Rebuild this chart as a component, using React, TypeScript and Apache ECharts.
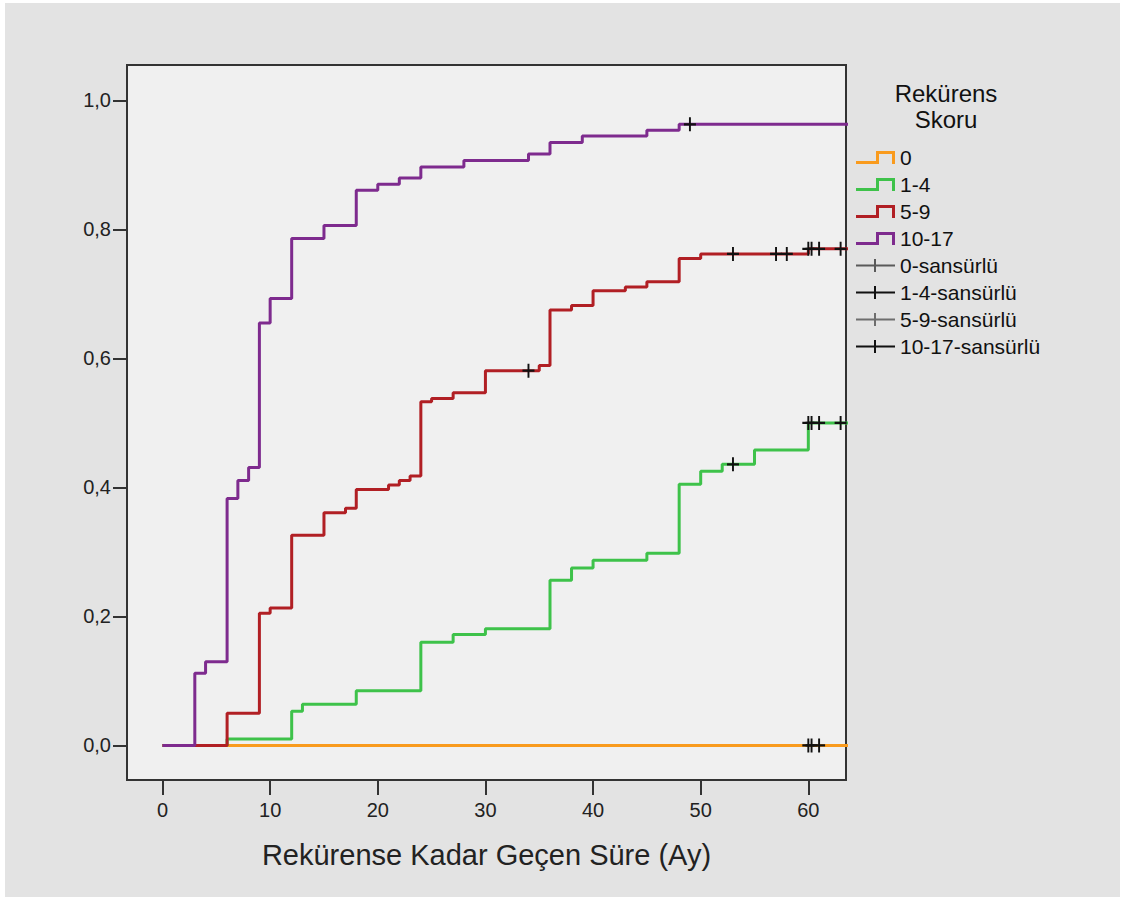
import React, { useEffect, useRef } from "react";
import * as echarts from "echarts";

// ---- Data ----
const groupNames = ["0", "1-4", "5-9", "10-17"];
const censorNames = ["0-sansürlü", "1-4-sansürlü", "5-9-sansürlü", "10-17-sansürlü"];

// cumulative recurrence, [months, proportion]
const score0Steps = [[0, 0], [64, 0]];
const score1to4Steps = [
  [0, 0], [6, 0.010], [12, 0.053], [13, 0.064], [18, 0.085], [24, 0.160], [27, 0.172],
  [30, 0.181], [36, 0.256], [38, 0.275], [40, 0.287], [45, 0.298], [48, 0.405],
  [50, 0.425], [52, 0.436], [55, 0.458], [60, 0.500], [64, 0.500],
];
const score5to9Steps = [
  [0, 0], [6, 0.050], [9, 0.205], [10, 0.213], [12, 0.326], [15, 0.361], [17, 0.368],
  [18, 0.397], [21, 0.404], [22, 0.411], [23, 0.418], [24, 0.533], [25, 0.538],
  [27, 0.547], [30, 0.581], [35, 0.589], [36, 0.675], [38, 0.682], [40, 0.705],
  [43, 0.711], [45, 0.719], [48, 0.755], [50, 0.762], [60, 0.770], [64, 0.770],
];
const score10to17Steps = [
  [0, 0], [3, 0.112], [4, 0.130], [6, 0.383], [7, 0.411], [8, 0.431], [9, 0.655],
  [10, 0.693], [12, 0.786], [15, 0.806], [18, 0.861], [20, 0.870], [22, 0.880],
  [24, 0.897], [28, 0.907], [34, 0.917], [36, 0.935], [39, 0.945], [45, 0.954],
  [48, 0.963], [64, 0.963],
];

// censored observations
const score0Censored = [[60, 0], [60.3, 0], [61, 0]];
const score1to4Censored = [[53, 0.436], [60, 0.5], [60.3, 0.5], [61, 0.5], [63, 0.5]];
const score5to9Censored = [
  [34, 0.581], [53, 0.762], [57, 0.762], [58, 0.762], [60, 0.770], [60.3, 0.770],
  [61, 0.770], [63, 0.770],
];
const score10to17Censored = [[49, 0.963]];

const xTicks = [0, 10, 20, 30, 40, 50, 60];
const yTicks = [0, 0.2, 0.4, 0.6, 0.8, 1.0];

const lineColors = ["#f99b1e", "#3ec24a", "#b11f24", "#7e2b8e"];
const censorIconColors = ["#5a5a5a", "#111111", "#6e6e6e", "#111111"];

const FONT = "'Liberation Sans', Arial, sans-serif";
const STEP_ICON = "path://M0,10H20V0H39V13H36V3H23V13H0Z";
const PLUS_ICON = "path://M0,5.5H18V0H20V5.5H39V7.5H20V13H18V7.5H0Z";
const PLUS_SYMBOL =
  "path://M-0.16,-1H0.16V-0.16H1V0.16H0.16V1H-0.16V0.16H-1V-0.16H-0.16Z";

export default function App() {
  const ref = useRef<HTMLDivElement>(null);

  useEffect(() => {
    if (!ref.current) return;
    const chart = echarts.init(ref.current, null, { renderer: "svg" });
    const steps = [score0Steps, score1to4Steps, score5to9Steps, score10to17Steps];
    const cens = [score0Censored, score1to4Censored, score5to9Censored, score10to17Censored];

    const lineSeries = steps.map((d, i) => ({
      name: groupNames[i],
      type: "line",
      step: "end",
      data: d,
      showSymbol: false,
      symbol: "none",
      clip: true,
      lineStyle: { color: lineColors[i], width: 3 },
      itemStyle: { color: lineColors[i] },
      z: 2 + i,
    }));
    const censorSeries = cens.map((d, i) => ({
      name: censorNames[i],
      type: "scatter",
      data: d,
      symbol: PLUS_SYMBOL,
      symbolSize: [12, 14],
      itemStyle: { color: "#111", opacity: 1 },
      z: 10,
    }));

    chart.setOption({
      animation: false,
      backgroundColor: "transparent",
      grid: {
        left: 127,
        top: 65,
        width: 719,
        height: 715,
        show: true,
        backgroundColor: "#f0f0f0",
        borderColor: "#333",
        borderWidth: 2,
        containLabel: false,
      },
      xAxis: {
        type: "value",
        min: -3.3,
        max: 63.5,
        axisLine: { show: false, onZero: false },
        splitLine: { show: false },
        axisTick: {
          show: true,
          customValues: xTicks,
          length: 15,
          lineStyle: { color: "#333", width: 2 },
        },
        axisLabel: {
          customValues: xTicks,
          margin: 20,
          fontSize: 20,
          fontFamily: FONT,
          color: "#222",
          formatter: (v: number) => String(v),
        },
        name: "Rekürense Kadar Geçen Süre (Ay)",
        nameLocation: "middle",
        nameGap: 60,
        nameTextStyle: { fontSize: 29, fontFamily: FONT, color: "#222" },
      },
      yAxis: {
        type: "value",
        min: -0.0535,
        max: 1.055,
        axisLine: { show: false, onZero: false },
        splitLine: { show: false },
        axisTick: {
          show: true,
          customValues: yTicks,
          length: 14,
          lineStyle: { color: "#333", width: 2 },
        },
        axisLabel: {
          customValues: yTicks,
          margin: 16,
          fontSize: 20,
          fontFamily: FONT,
          color: "#222",
          formatter: (v: number) => v.toFixed(1).replace(".", ","),
        },
      },
      legend: {
        orient: "vertical",
        left: 851,
        top: 142,
        itemWidth: 39,
        itemHeight: 13,
        itemGap: 6,
        selectedMode: false,
        textStyle: { fontSize: 21, fontFamily: FONT, color: "#111", lineHeight: 21 },
        data: [
          ...groupNames.map((n, i) => ({
            name: n,
            icon: STEP_ICON,
            itemStyle: { color: lineColors[i], borderWidth: 0 },
          })),
          ...censorNames.map((n, i) => ({
            name: n,
            icon: PLUS_ICON,
            itemStyle: { color: censorIconColors[i], borderWidth: 0 },
          })),
        ],
      },
      graphic: [
        {
          type: "text",
          x: 946,
          y: 93,
          style: {
            text: "Rekürens",
            fontSize: 24,
            fontFamily: FONT,
            fill: "#111",
            align: "center",
            verticalAlign: "middle",
          },
        },
        {
          type: "text",
          x: 946,
          y: 119,
          style: {
            text: "Skoru",
            fontSize: 24,
            fontFamily: FONT,
            fill: "#111",
            align: "center",
            verticalAlign: "middle",
          },
        },
      ],
      series: [...lineSeries, ...censorSeries],
    });

    return () => chart.dispose();
  }, []);

  return (
    <div style={{ position: "fixed", left: 0, top: 0, width: 1124, height: 900, background: "#fff" }}>
      <div style={{ position: "absolute", left: 5, top: 3, width: 1115, height: 894, background: "#e3e3e3" }} />
      <div ref={ref} style={{ position: "absolute", left: 0, top: 0, width: 1124, height: 900 }} />
    </div>
  );
}
